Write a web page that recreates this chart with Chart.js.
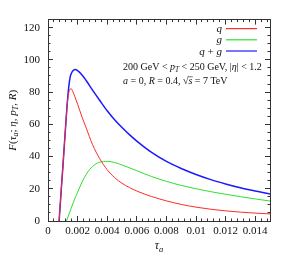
<!DOCTYPE html>
<html>
<head>
<meta charset="utf-8">
<script src="https://cdn.jsdelivr.net/npm/chart.js@4.4.0/dist/chart.umd.min.js"></script>
<style>
  html, body { margin: 0; padding: 0; background: #fff; }
  #wrap { width: 291px; height: 255px; }
</style>
</head>
<body>
<div id="wrap"><canvas id="chart"></canvas></div>
<script>
// Values
const seriesNames = ['q', 'g', 'q + g'];

const tauQ = [0.00075, 0.0009, 0.001, 0.0011, 0.0012, 0.0013, 0.0014, 0.0015, 0.00155, 0.0016, 0.0018, 0.002,
              0.0023, 0.0026, 0.003, 0.0035, 0.004, 0.0045, 0.005, 0.0055, 0.006, 0.007, 0.008, 0.009,
              0.010, 0.011, 0.012, 0.013, 0.014, 0.015];
const fQ   = [0, 20, 33, 46.5, 60, 72.5, 79.5, 81.8, 82.2, 81.8, 77.5, 72.5,
              64.5, 57.3, 47.6, 38.6, 31.8, 27.0, 23.4, 20.8, 18.6, 15.2, 12.5, 10.3,
              8.6, 7.3, 6.3, 5.5, 4.9, 4.4];

const tauG = [0.00125, 0.0014, 0.0016, 0.0018, 0.002, 0.0023, 0.0026, 0.003, 0.0035, 0.004, 0.0045, 0.005,
              0.0055, 0.006, 0.007, 0.008, 0.009, 0.010, 0.011, 0.012, 0.013, 0.014, 0.015];
const fG   = [0, 3.8, 8.8, 13.6, 17.8, 24.2, 29.2, 33.8, 36.5, 37, 36.3, 34.8,
              33, 31.2, 27.6, 24.6, 22.1, 20, 18.2, 16.6, 15.1, 13.7, 12.4];

const tauQG = [0.00075, 0.0009, 0.001, 0.0011, 0.0012, 0.0013, 0.0014, 0.0015, 0.0016, 0.0017, 0.00185, 0.002,
               0.0023, 0.0026, 0.003, 0.0035, 0.004, 0.0045, 0.005, 0.0055, 0.006, 0.007, 0.008, 0.009,
               0.010, 0.011, 0.012, 0.013, 0.014, 0.015];
const fQG   = [0, 20, 33, 46.5, 60, 73, 83, 89.5, 92, 93.4, 94, 93.3,
               90.6, 86.9, 81.4, 74.8, 68.4, 62.8, 58, 53.6, 49.6, 42.6, 37.0, 32.6,
               28.9, 25.7, 23.0, 20.6, 18.6, 16.8];

const xTicks = [0, 0.002, 0.004, 0.006, 0.008, 0.01, 0.012, 0.014];
const yTicks = [0, 20, 40, 60, 80, 100, 120];

const colors = ['#ff2a2a', '#2ee02e', '#1a1aff'];
const axisColor = '#333';
const serif = '"Liberation Serif", "DejaVu Serif", serif';

const toPoints = (xs, ys) => xs.map((x, i) => ({ x: x, y: ys[i] }));

// tick marks point into the plot; minor axes only carry the short ticks
function axis(dir, position, major) {
  const cfg = {
    type: 'linear',
    axis: dir,
    position: position,
    min: 0,
    max: dir === 'x' ? 0.015 : 125,
    weight: major ? 1 : 0,
    border: { display: major, color: axisColor, width: 1 },
    grid: { drawOnChartArea: false, color: axisColor, tickLength: major ? -5 : -2.5, tickWidth: 1 },
    ticks: { display: false, includeBounds: false, autoSkip: false, maxRotation: 0 },
    afterFit: s => { if (dir === 'x') s.height = 0; else s.width = 0; }
  };
  if (major) {
    const list = dir === 'x' ? xTicks : yTicks;
    cfg.afterBuildTicks = s => { s.ticks = list.map(v => ({ value: v })); };
  } else {
    cfg.ticks.stepSize = dir === 'x' ? 0.0004 : 5;
  }
  return cfg;
}

const xMain = axis('x', 'bottom', true);
xMain.ticks = { display: true, autoSkip: false, maxRotation: 0, padding: 9, color: '#111',
  font: { family: serif, size: 11 }, callback: v => String(+v.toFixed(4)) };
xMain.afterFit = s => { s.height = 34; };

const yMain = axis('y', 'left', true);
yMain.ticks = { display: true, autoSkip: false, padding: 13, color: '#111',
  font: { family: serif, size: 11 }, callback: v => String(v) };
yMain.afterFit = s => { s.width = 48; };

function rich(ctx, parts, x, y, size, align) {
  const fonts = {
    r: size + 'px ' + serif,
    i: 'italic ' + size + 'px ' + serif,
    s: 'italic ' + (size * 0.72).toFixed(1) + 'px ' + serif
  };
  let total = 0;
  const items = parts.map(([t, st]) => {
    ctx.font = fonts[st[0]];
    const w = ctx.measureText(t).width;
    total += w;
    return { t, st, w };
  });
  let cx = align === 'right' ? x - total : align === 'center' ? x - total / 2 : x;
  ctx.textAlign = 'left';
  ctx.textBaseline = 'alphabetic';
  items.forEach(it => {
    ctx.font = fonts[it.st[0]];
    const dy = it.st[0] === 's' ? size * 0.22 : 0;
    ctx.fillText(it.t, cx, y + dy);
    if (it.st.indexOf('o') >= 0) {
      ctx.beginPath();
      ctx.lineWidth = 0.6;
      ctx.moveTo(cx - 0.5, y - size * 0.72);
      ctx.lineTo(cx + it.w + 0.5, y - size * 0.72);
      ctx.stroke();
    }
    cx += it.w;
  });
}

const textPlugin = {
  id: 'texts',
  afterDraw(chart) {
    const ctx = chart.ctx;
    const area = chart.chartArea;
    ctx.save();

    // legend: label on the left, line sample on the right
    chart.data.datasets.forEach((ds, i) => {
      const yRow = area.top + 9 + i * 11.2;
      const parts = ds.label.split(' ').map(t => t === '+' ? [' + ', 'r'] : [t, 'i']);
      ctx.fillStyle = '#111';
      rich(ctx, parts, area.right - 48, yRow + 3.5, 11, 'right');
      ctx.beginPath();
      ctx.strokeStyle = ds.borderColor;
      ctx.lineWidth = 1.2;
      ctx.moveTo(area.right - 44, yRow);
      ctx.lineTo(area.right - 13, yRow);
      ctx.stroke();
    });

    ctx.fillStyle = '#111';
    ctx.strokeStyle = '#111';
    rich(ctx, [['200 GeV < ', 'r'], ['p', 'i'], ['T', 's'], [' < 250 GeV, |', 'r'], ['η', 'i'], ['| < 1.2', 'r']],
      123, 70, 10, 'left');
    rich(ctx, [['a', 'i'], [' = 0, ', 'r'], ['R', 'i'], [' = 0.4, ', 'r'], ['√', 'r'], ['s', 'io'], [' = 7 TeV', 'r']],
      123, 84, 10, 'left');

    // axis titles
    rich(ctx, [['τ', 'i'], ['a', 's']], (area.left + area.right) / 2, 249, 12, 'center');
    ctx.translate(16, (area.top + area.bottom) / 2);
    ctx.rotate(-Math.PI / 2);
    rich(ctx, [['F', 'i'], ['(', 'r'], ['τ', 'i'], ['a', 's'], ['; ', 'r'], ['η', 'i'], [', ', 'r'],
      ['p', 'i'], ['T', 's'], [', ', 'r'], ['R', 'i'], [')', 'r']], 0, 0, 11, 'center');
    ctx.restore();
  }
};

new Chart(document.getElementById('chart'), {
  type: 'line',
  data: {
    datasets: [
      { label: seriesNames[0], data: toPoints(tauQ, fQ), borderColor: colors[0], borderWidth: 1 },
      { label: seriesNames[1], data: toPoints(tauG, fG), borderColor: colors[1], borderWidth: 1 },
      { label: seriesNames[2], data: toPoints(tauQG, fQG), borderColor: colors[2], borderWidth: 1.5 }
    ].map(ds => Object.assign(ds, { pointRadius: 0, fill: false, cubicInterpolationMode: 'monotone' }))
  },
  options: {
    responsive: true,
    maintainAspectRatio: false,
    animation: false,
    layout: { padding: { left: 0, right: 21, top: 11, bottom: 0 } },
    plugins: { legend: { display: false }, tooltip: { enabled: false } },
    scales: {
      x: xMain,
      xMinor: axis('x', 'bottom', false),
      xTop: axis('x', 'top', true),
      xTopMinor: axis('x', 'top', false),
      y: yMain,
      yMinor: axis('y', 'left', false),
      yRight: axis('y', 'right', true),
      yRightMinor: axis('y', 'right', false)
    }
  },
  plugins: [textPlugin]
});
</script>
</body>
</html>
